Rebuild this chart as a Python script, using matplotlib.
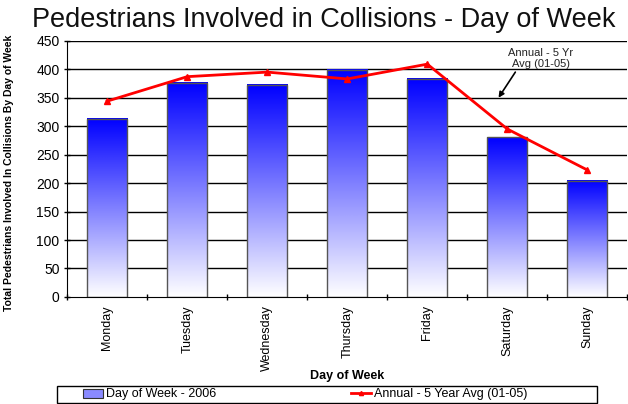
import numpy as np
import matplotlib
matplotlib.use('Agg')
import matplotlib.pyplot as plt
from matplotlib.patches import Patch, Rectangle
from matplotlib.lines import Line2D

plt.rcParams['font.family'] = ['Liberation Sans', 'DejaVu Sans']

days = ["Monday", "Tuesday", "Wednesday", "Thursday", "Friday", "Saturday", "Sunday"]
counts_2006 = [313, 376, 373, 399, 383, 281, 204]
avg_5yr = [344, 387, 395, 383, 409, 295, 223]
y_ticks = list(range(0, 451, 50))

fig = plt.figure(figsize=(6.28, 4.04), dpi=100)
ax = fig.add_axes([0.107, 0.265, 0.892, 0.634])

x = np.arange(len(days))
bars = ax.bar(x, counts_2006, width=0.5, facecolor='none', edgecolor='#555555', linewidth=1, zorder=3)

# blue-to-white gradient inside each bar
grad = np.linspace(1, 0, 256).reshape(-1, 1)
cmap = matplotlib.colors.LinearSegmentedColormap.from_list('bw', ['#ffffff', '#0000ff'])
for b in bars:
    ax.imshow(grad, extent=[b.get_x(), b.get_x() + b.get_width(), 0, b.get_height()],
              aspect='auto', cmap=cmap, vmin=0, vmax=1, zorder=2, origin='upper')

ax.plot(x, avg_5yr, color='#ff0000', linewidth=2, marker='^', markersize=4, zorder=4)

ax.set_xlim(-0.5, len(days) - 0.5)
ax.set_ylim(0, 450)
ax.set_yticks(y_ticks)
ax.set_xticks(np.arange(len(days) + 1) - 0.5, minor=False)
ax.set_xticklabels([])
ax.set_xticks(x, minor=True)
ax.set_xticklabels(days, minor=True, rotation=90, fontsize=9)
ax.tick_params(axis='x', which='minor', length=0, pad=6)
ax.tick_params(axis='x', which='major', length=5, direction='inout', width=1)
ax.tick_params(axis='y', length=5, direction='inout', width=1, labelsize=10, pad=3)

for yv in y_ticks[1:]:
    ax.axhline(yv, color='black', linewidth=1, zorder=1)

for s in ['top', 'right']:
    ax.spines[s].set_visible(False)
ax.spines['left'].set_zorder(5)
ax.spines['bottom'].set_zorder(5)

ax.set_ylabel('Total Pedestrians Involved In Collisions By Day of Week', fontsize=7.5, fontweight='bold', va='center')
ax.yaxis.set_label_coords(-0.104, 0.484)
ax.set_xlabel('Day of Week', fontsize=9, fontweight='bold', va='center')
ax.xaxis.set_label_coords(0.5, -0.309)
fig.text(0.515, 0.95, 'Pedestrians Involved in Collisions - Day of Week', ha='center', va='center', fontsize=19.5, color='#111111')

ax.text(5.42, 419, 'Annual - 5 Yr\nAvg (01-05)', ha='center', va='center', fontsize=8, color='#222222', zorder=6)
ax.annotate('', xy=(4.89, 350), xytext=(5.1, 395),
            arrowprops=dict(arrowstyle='-|>', color='black', lw=1.2, shrinkA=0, shrinkB=0, mutation_scale=8))

# legend frame drawn separately, entries placed inside
fig.patches.append(Rectangle((57 / 628, 1 / 404), 540 / 628, 17 / 404, transform=fig.transFigure,
                             facecolor='white', edgecolor='black', linewidth=1))
handles = [Patch(facecolor='#8a8aff', edgecolor='#333333', linewidth=0.8, label='Day of Week - 2006'),
           Line2D([0], [0], color='#ff0000', linewidth=2, marker='^', markersize=3, label='Annual - 5 Year Avg (01-05)')]
leg = fig.legend(handles=handles, loc='center left', bbox_to_anchor=(83 / 628, 9.5 / 404),
                 ncol=2, fontsize=9, frameon=False, borderpad=0, handlelength=1.6,
                 handletextpad=0.25, columnspacing=10.8, borderaxespad=0)

fig.savefig('out.png', dpi=100)
